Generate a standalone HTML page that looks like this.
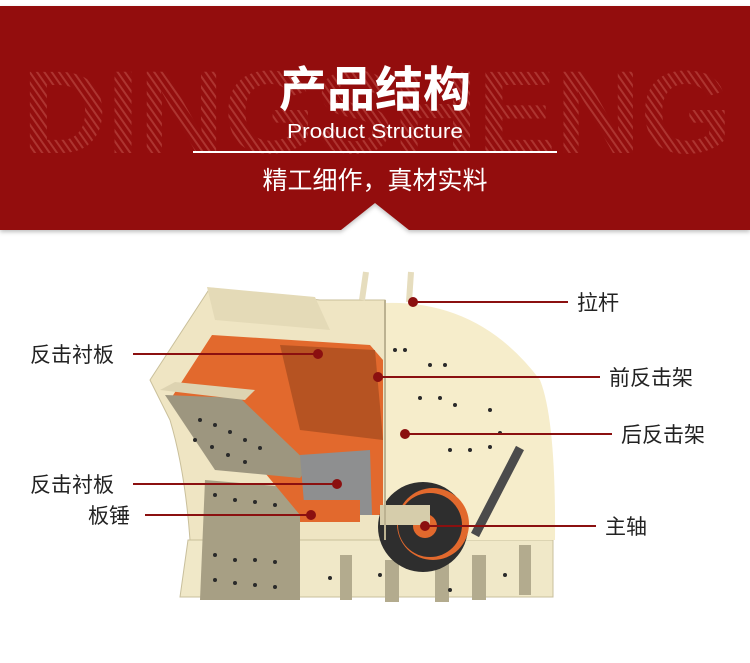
<!DOCTYPE html>
<html><head><meta charset="utf-8"><style>
html,body{margin:0;padding:0;background:#fff;}
body{width:750px;height:663px;overflow:hidden;position:relative;font-family:"Liberation Sans","Noto Sans CJK SC",sans-serif;}
</style></head><body>
<svg width="750" height="663" viewBox="0 0 750 663" xmlns="http://www.w3.org/2000/svg" style="position:absolute;left:0;top:0">
<defs>
<pattern id="hatch" width="6" height="6" patternUnits="userSpaceOnUse" patternTransform="rotate(-35)">
<rect width="6" height="6" fill="#930e0e"/><rect width="2" height="6" fill="#ad3430"/>
</pattern>
<filter id="sh"><feDropShadow dx="0" dy="2" stdDeviation="2" flood-opacity="0.25"/></filter>
</defs>
<path d="M0 6 H750 V230 H409 L375 203 L341 230 H0 Z" fill="#930e0e" filter="url(#sh)"/>
<g fill="url(#hatch)" font-family="Liberation Sans, sans-serif" font-weight="bold" font-size="118">
<text x="22" y="153" textLength="710" lengthAdjust="spacing">DINGSHENG</text>
</g>
<text x="375" y="106" text-anchor="middle" fill="#fff" font-size="48" font-weight="bold" font-family="Noto Sans CJK SC, sans-serif">产品结构</text>
<text x="375" y="138" text-anchor="middle" fill="#fff" font-size="20" font-family="Liberation Sans, sans-serif" textLength="176" lengthAdjust="spacingAndGlyphs">Product Structure</text>
<rect x="193" y="151" width="364" height="2" fill="#fff"/>
<text x="375" y="189" text-anchor="middle" fill="#fff" font-size="25" font-family="Noto Sans CJK SC, sans-serif">精工细作，真材实料</text>

<g>
<path d="M180 597 L553 597 L553 540 L188 540 Z" fill="#f0e8c8" stroke="#c8bf9c"/>
<rect x="340" y="555" width="12" height="45" fill="#b3ab8e"/>
<rect x="385" y="560" width="14" height="42" fill="#b3ab8e"/>
<rect x="435" y="560" width="14" height="42" fill="#b3ab8e"/>
<rect x="472" y="555" width="14" height="45" fill="#b3ab8e"/>
<rect x="519" y="545" width="12" height="50" fill="#b3ab8e"/>
<path d="M385 303 Q480 300 540 380 Q556 420 555 540 L385 540 Z" fill="#f6edcb"/>
<path d="M210 288 L320 300 L385 300 L385 540 L190 540 Q185 470 170 420 L150 380 Z" fill="#efe5c3" stroke="#c9bf9a"/>
<path d="M205 480 L300 488 L300 600 L200 600 Z" fill="#a79f84"/>
<path d="M207 287 L315 297 L330 330 L215 320 Z" fill="#e4dab7"/>
<path d="M212 335 L370 345 L383 360 L383 515 L300 515 L250 455 L170 400 Z" fill="#e2692d"/>
<path d="M280 345 L375 350 L383 440 L300 430 Z" fill="#a44a1e" opacity="0.7"/>
<path d="M165 395 L240 398 L310 465 L300 478 L215 470 Z" fill="#9d967f"/>
<path d="M160 390 L245 400 L255 390 L175 382 Z" fill="#ddd3b1"/>
<path d="M300 455 L370 450 L372 515 L305 515 Z" fill="#8e8f90"/>
<rect x="300" y="500" width="60" height="22" fill="#e2692d"/>
<circle cx="423" cy="527" r="45" fill="#2e2e2e"/>
<circle cx="433" cy="524" r="36" fill="#e2692d"/>
<circle cx="430" cy="525" r="32" fill="#2e2e2e"/>
<circle cx="425" cy="526" r="12" fill="#e2692d"/>
<rect x="380" y="505" width="50" height="20" fill="#d6cdab"/>
<line x1="475" y1="535" x2="520" y2="448" stroke="#4b4b4b" stroke-width="9"/>
<line x1="366" y1="272" x2="362" y2="300" stroke="#e6ddbe" stroke-width="6"/>
<line x1="411" y1="272" x2="409" y2="302" stroke="#e6ddbe" stroke-width="6"/>
<line x1="385" y1="300" x2="385" y2="540" stroke="#bcb291" stroke-width="2"/>
<g fill="#2a2a2a">
<circle cx="395" cy="350" r="2"/><circle cx="405" cy="350" r="2"/><circle cx="430" cy="365" r="2"/><circle cx="445" cy="365" r="2"/>
<circle cx="420" cy="398" r="2"/><circle cx="440" cy="398" r="2"/><circle cx="455" cy="405" r="2"/><circle cx="490" cy="410" r="2"/>
<circle cx="450" cy="450" r="2"/><circle cx="470" cy="450" r="2"/><circle cx="490" cy="447" r="2"/><circle cx="500" cy="433" r="2"/>
<circle cx="215" cy="495" r="2"/><circle cx="235" cy="500" r="2"/><circle cx="255" cy="502" r="2"/><circle cx="275" cy="505" r="2"/>
<circle cx="215" cy="555" r="2"/><circle cx="235" cy="560" r="2"/><circle cx="255" cy="560" r="2"/><circle cx="275" cy="562" r="2"/>
<circle cx="215" cy="580" r="2"/><circle cx="235" cy="583" r="2"/><circle cx="255" cy="585" r="2"/><circle cx="275" cy="587" r="2"/>
<circle cx="200" cy="420" r="2"/><circle cx="215" cy="425" r="2"/><circle cx="230" cy="432" r="2"/><circle cx="245" cy="440" r="2"/><circle cx="260" cy="448" r="2"/>
<circle cx="195" cy="440" r="2"/><circle cx="212" cy="447" r="2"/><circle cx="228" cy="455" r="2"/><circle cx="245" cy="462" r="2"/>
<circle cx="330" cy="578" r="2"/><circle cx="380" cy="575" r="2"/><circle cx="450" cy="590" r="2"/><circle cx="505" cy="575" r="2"/>
</g>
</g>

<g stroke="#8b1010" stroke-width="2" fill="#8b1010">
<line x1="413" y1="302" x2="568" y2="302"/><circle cx="413" cy="302" r="4"/>
<line x1="133" y1="354" x2="318" y2="354"/><circle cx="318" cy="354" r="4"/>
<line x1="378" y1="377" x2="600" y2="377"/><circle cx="378" cy="377" r="4"/>
<line x1="405" y1="434" x2="612" y2="434"/><circle cx="405" cy="434" r="4"/>
<line x1="133" y1="484" x2="337" y2="484"/><circle cx="337" cy="484" r="4"/>
<line x1="145" y1="515" x2="311" y2="515"/><circle cx="311" cy="515" r="4"/>
<line x1="425" y1="526" x2="596" y2="526"/><circle cx="425" cy="526" r="4"/>
</g>
<g fill="#222" font-size="21" font-family="Noto Sans CJK SC, sans-serif">
<text x="577" y="310">拉杆</text>
<text x="30" y="362">反击衬板</text>
<text x="609" y="385">前反击架</text>
<text x="621" y="442">后反击架</text>
<text x="30" y="492">反击衬板</text>
<text x="88" y="523">板锤</text>
<text x="605" y="534">主轴</text>
</g>
</svg>
</body></html>
